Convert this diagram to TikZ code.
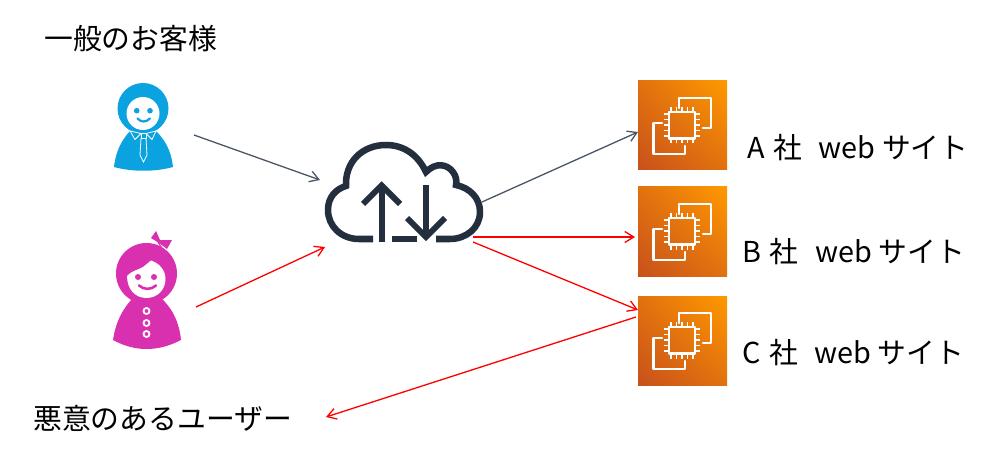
\documentclass[tikz,border=0pt]{standalone}
\usepackage{fontspec}
\usetikzlibrary{arrows.meta,shadings}
\setmainfont{Liberation Sans}
\newfontfamily\cjk{Noto Sans CJK JP}
\definecolor{blueu}{HTML}{0AA3E0}
\definecolor{pinku}{HTML}{D930B0}
\definecolor{cloudc}{HTML}{232F3E}
\definecolor{grayc}{HTML}{4A5666}
\definecolor{ecd}{HTML}{C8511B}
\definecolor{ecl}{HTML}{FF9900}
\tikzset{
  x=1pt,y=-1pt,
  conn/.style={line width=1.3pt,-{Straight Barb[length=9pt,width=11pt,line width=1.3pt]}},
  grayconn/.style={conn,draw=grayc},
  redconn/.style={conn,draw=red},
  lbl/.style={font=\cjk\fontsize{28.8}{32}\selectfont,text=black,inner sep=0pt,anchor=west},
  sitelbl/.style={font=\cjk\fontsize{28.8}{32}\selectfont,text=black,inner sep=0pt,anchor=west},
  cloudline/.style={draw=cloudc,line width=6.5pt,line join=miter},
  ecline/.style={draw=white,line width=2.2pt,line join=round,line cap=round},
  ecbox/.pic={
    \shade[lower left=ecd,upper right=ecl,upper left=ecd!55!ecl,lower right=ecd!55!ecl] (0,0) rectangle (89,89);
    \draw[ecline] (41,27) -- (41,16.7) -- (72.7,16.7) -- (72.7,47) -- (65,47);
    \draw[ecline] (24,42.3) -- (15.5,42.3) -- (15.5,73.3) -- (46.7,73.3) -- (46.7,65);
    \draw[ecline] (31,31) rectangle (57.3,57.5);
    \foreach \p in {33,38.5,44,49.5,55}{
      \draw[ecline,line width=1.7pt,line cap=butt] (\p,26) -- (\p,31) (\p,57.5) -- (\p,62.5) (26,\p) -- (31,\p) (57.3,\p) -- (62.3,\p);
    }
  }
}
\begin{document}
\begin{tikzpicture}
\useasboundingbox (0,0) rectangle (1000,462);
\fill[white] (0,0) rectangle (1000,462);
% blue customer
\fill[blueu] (143,108.5) circle[radius=25.5];
\fill[blueu] (114,167) .. controls (116,150) and (122,140) .. (130,131) -- (156,131) .. controls (165,140) and (171,150) .. (173,167) .. controls (155,172) and (132,172) .. (114,167) -- cycle;
\fill[white] (143,113.5) circle[radius=16.5];
\fill[blueu] (136.7,110.7) circle[radius=2.8] (150,110.7) circle[radius=2.8];
\draw[blueu,line width=2.2pt,line cap=round] (137.5,118.5) .. controls (141,122.5) and (146,122.5) .. (150,118.5);
\draw[white,line width=.8pt,fill=blueu] (130,131) -- (141,133.5) -- (135,139.5) -- cycle (156,131) -- (146,133.5) -- (152,139.5) -- cycle;
\draw[white,line width=.8pt,fill=blueu] (141,133.5) -- (146,133.5) -- (146,138) -- (141,138) -- cycle;
\draw[white,line width=.8pt] (141,138) -- (140,155) -- (143.5,162) -- (147,155) -- (146,138);
% pink customer
\fill[pinku] (146.5,273.5) circle[radius=30.5];
\fill[pinku] (113,340) .. controls (116,320) and (124,307) .. (134,297) -- (160,297) .. controls (171,307) and (179,320) .. (181,340) .. controls (158,352) and (135,352) .. (113,340) -- cycle;
\fill[white] (127,276) .. controls (131,271) and (138,270) .. (143,267) .. controls (147,264) and (149,262) .. (151,260.5) .. controls (159,263) and (165.5,270) .. (165.5,279) .. controls (165.5,290) and (157,298) .. (146.5,298) .. controls (135,298) and (127,289) .. (127,276) -- cycle;
\fill[pinku] (138,277) circle[radius=3] (154,277) circle[radius=3];
\draw[pinku,line width=2.6pt,line cap=round] (139,285.5) .. controls (144,290) and (151,290) .. (156,285.5);
\fill[pinku] (151,238) -- (156,231) -- (160,240) -- (172,240) -- (167,249) -- (159,243) -- cycle;
\draw[pinku,line width=1.2pt] (158,242) -- (163,250);
\foreach \y in {311,323,334}{\draw[white,line width=1.8pt] (146.5,\y) circle[radius=3];}
% cloud
\draw[cloudline]
 (373,239) -- (359,239) .. controls (341,239) and (328,226) .. (328,210) .. controls (328,197) and (336,189) .. (346,186)
 .. controls (345,162) and (362,145) .. (386,145) .. controls (404,145) and (418,155) .. (426,172)
 .. controls (436,162) and (447,164) .. (453,172) .. controls (456,176) and (457,181) .. (456,185)
 .. controls (470,188) and (480,198) .. (480,212) .. controls (480,228) and (466,239) .. (450,239) -- (436,239);
\draw[cloudline] (392,239) -- (417,239);
\draw[cloudline,line width=6pt] (381.5,242) -- (381.5,186);
\draw[cloudline,line width=6pt] (363,204) -- (381.5,185.5) -- (400,204);
\draw[cloudline,line width=6pt] (426,185) -- (426,238);
\draw[cloudline,line width=6pt] (407,218) -- (426,237) -- (445,218);
% site icons
\pic at (638,81) {ecbox};
\pic at (638,187) {ecbox};
\pic at (638,296) {ecbox};
% anchors
\coordinate (ua) at (194,135);
\coordinate (cin1) at (320,180);
\coordinate (ub) at (196,307);
\coordinate (cin2) at (325,247);
\coordinate (cout1) at (482,202);
\coordinate (sa) at (638,132);
\coordinate (cout2) at (473,237);
\coordinate (sb) at (635,237);
\coordinate (cout3) at (473,242);
\coordinate (sc) at (638,310);
\coordinate (sc2) at (636,317);
\coordinate (mal) at (326,417);
\draw[grayconn] (ua) -- (cin1);
\draw[grayconn] (cout1) -- (sa);
\draw[redconn] (ub) -- (cin2);
\draw[redconn] (cout2) -- (sb);
\draw[redconn] (cout3) -- (sc);
\draw[redconn] (sc2) -- (mal);
% labels
\node[lbl] (t1) at (44,39) {一般のお客様};
\node[lbl] (t2) at (33,418) {悪意のあるユーザー};
\node[sitelbl] (a) at (747,148) {A\hspace{2pt} 社\ \hspace{4pt}\ web サイト};
\node[sitelbl] (b) at (742,252) {B\hspace{2pt} 社\ \hspace{4pt}\ web サイト};
\node[sitelbl] (c) at (742,353) {C\hspace{2pt} 社\ \hspace{4pt}\ web サイト};
\end{tikzpicture}
\end{document}
